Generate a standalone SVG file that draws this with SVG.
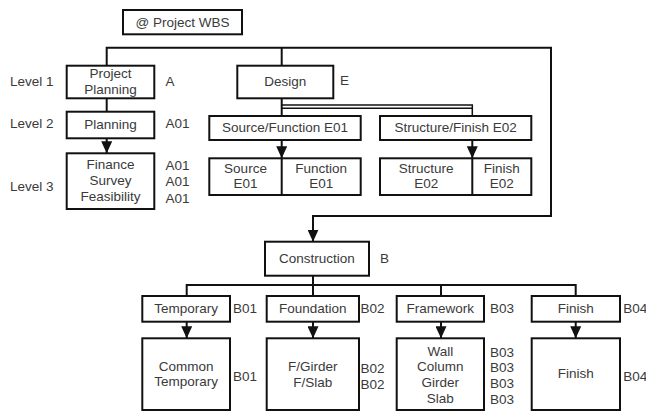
<svg xmlns="http://www.w3.org/2000/svg" width="646" height="413" viewBox="0 0 646 413">
  <defs>
    <marker id="arrow" markerUnits="userSpaceOnUse" markerWidth="12" markerHeight="11" refX="12" refY="5.5" orient="auto">
      <path d="M0,0 L12,5.5 L0,11 z" fill="#111"/>
    </marker>
    <style>
      .box { fill: #fff; stroke: #111; stroke-width: 2; }
      .ln { fill: none; stroke: #111; stroke-width: 2; }
      .t { font-family: "Liberation Sans", Arial, sans-serif; font-size: 13.5px; fill: #3a3a3a; dominant-baseline: central; }
      .c { text-anchor: middle; }
    </style>
  </defs>

  <rect width="646" height="413" fill="#fff"/>

  <!-- connectors -->
  <g id="connectors">
    <path class="ln" d="M106.7,65.7 V47.7 H551 V216 H313 V241.7" marker-end="url(#arrow)"/>
    <path class="ln" d="M281.7,47.7 V65.7"/>
    <path class="ln" d="M106.7,98.3 V111.7"/>
    <path class="ln" d="M106.7,138.3 V153.3" marker-end="url(#arrow)"/>
    <path class="ln" d="M281.7,98.3 V116"/>
    <path class="ln" d="M281.7,105 H472.3 V116" style="stroke-width:1.5"/>
    <path class="ln" d="M281.7,108.3 H472.3" style="stroke-width:1.5"/>
    <path class="ln" d="M281.7,140 V158.3" marker-end="url(#arrow)"/>
    <path class="ln" d="M472.3,140 V158.3" marker-end="url(#arrow)"/>
    <path class="ln" d="M313,275.7 V296"/>
    <path class="ln" d="M186.7,296 V285 H575.7 V296"/>
    <path class="ln" d="M441,285 V296"/>
    <path class="ln" d="M186.7,321.7 V338.3" marker-end="url(#arrow)"/>
    <path class="ln" d="M313,321.7 V338.3" marker-end="url(#arrow)"/>
    <path class="ln" d="M441,321.7 V338.3" marker-end="url(#arrow)"/>
    <path class="ln" d="M575.7,321.7 V338.3" marker-end="url(#arrow)"/>
  </g>

  <!-- level captions -->
  <g id="levels" class="t">
    <text x="10" y="81">Level 1</text>
    <text x="10" y="123">Level 2</text>
    <text x="10" y="186">Level 3</text>
  </g>

  <g id="root">
    <rect class="box" x="123" y="10" width="119" height="24.3"/>
    <text class="t c" x="182.5" y="22">@ Project WBS</text>
  </g>

  <g id="project-planning">
    <rect class="box" x="66.7" y="65.7" width="87.6" height="32.6"/>
    <text class="t c" x="110.5" y="73.5">Project</text>
    <text class="t c" x="110.5" y="89.5">Planning</text>
    <text class="t" x="165.5" y="81">A</text>
  </g>

  <g id="planning">
    <rect class="box" x="66.7" y="111.7" width="87.6" height="26.6"/>
    <text class="t c" x="110.5" y="124">Planning</text>
    <text class="t" x="165.5" y="123.5">A01</text>
  </g>

  <g id="finance">
    <rect class="box" x="66.7" y="153.3" width="87.6" height="55.7"/>
    <text class="t c" x="110.5" y="164.5">Finance</text>
    <text class="t c" x="110.5" y="180.5">Survey</text>
    <text class="t c" x="110.5" y="196.5">Feasibility</text>
    <text class="t" x="165.5" y="165">A01</text>
    <text class="t" x="165.5" y="181.5">A01</text>
    <text class="t" x="165.5" y="198">A01</text>
  </g>

  <g id="design">
    <rect class="box" x="237.3" y="65.7" width="96" height="32.6"/>
    <text class="t c" x="285.3" y="81.5">Design</text>
    <text class="t" x="340" y="80.5">E</text>
  </g>

  <g id="source-function">
    <rect class="box" x="209.3" y="116" width="151.4" height="24"/>
    <text class="t c" x="285" y="127.8">Source/Function E01</text>
  </g>

  <g id="source-function-items">
    <rect class="box" x="209.3" y="158.3" width="151.4" height="36.7"/>
    <line class="ln" x1="281.7" y1="158.3" x2="281.7" y2="195"/>
    <text class="t c" x="245.5" y="168.3">Source</text>
    <text class="t c" x="245.5" y="183.5">E01</text>
    <text class="t c" x="321.2" y="168.3">Function</text>
    <text class="t c" x="321.2" y="183.5">E01</text>
  </g>

  <g id="structure-finish">
    <rect class="box" x="380" y="116" width="151.3" height="24"/>
    <text class="t c" x="455.7" y="127.8">Structure/Finish E02</text>
  </g>

  <g id="structure-finish-items">
    <rect class="box" x="380" y="158.3" width="151.3" height="36.7"/>
    <line class="ln" x1="472.3" y1="158.3" x2="472.3" y2="195"/>
    <text class="t c" x="426.2" y="168.3">Structure</text>
    <text class="t c" x="426.2" y="183.5">E02</text>
    <text class="t c" x="501.8" y="168.3">Finish</text>
    <text class="t c" x="501.8" y="183.5">E02</text>
  </g>

  <g id="construction">
    <rect class="box" x="265" y="241.7" width="104" height="34"/>
    <text class="t c" x="317" y="258.5">Construction</text>
    <text class="t" x="380" y="258">B</text>
  </g>

  <g id="temporary">
    <rect class="box" x="142.3" y="296" width="87.7" height="25.7"/>
    <text class="t c" x="186.2" y="308.8">Temporary</text>
    <text class="t" x="233" y="308.5">B01</text>
  </g>

  <g id="common-temporary">
    <rect class="box" x="142.3" y="338.3" width="87.7" height="71.7"/>
    <text class="t c" x="186.2" y="366.7">Common</text>
    <text class="t c" x="186.2" y="381">Temporary</text>
    <text class="t" x="233" y="376">B01</text>
  </g>

  <g id="foundation">
    <rect class="box" x="266.7" y="296" width="92.3" height="25.7"/>
    <text class="t c" x="312.8" y="308.8">Foundation</text>
    <text class="t" x="360.5" y="308.5">B02</text>
  </g>

  <g id="foundation-items">
    <rect class="box" x="266.7" y="338.3" width="92.3" height="71.7"/>
    <text class="t c" x="312.8" y="366.7">F/Girder</text>
    <text class="t c" x="312.8" y="382">F/Slab</text>
    <text class="t" x="360.5" y="368">B02</text>
    <text class="t" x="360.5" y="384">B02</text>
  </g>

  <g id="framework">
    <rect class="box" x="396.7" y="296" width="87.3" height="25.7"/>
    <text class="t c" x="440.3" y="308.8">Framework</text>
    <text class="t" x="490" y="308.5">B03</text>
  </g>

  <g id="framework-items">
    <rect class="box" x="396.7" y="338.3" width="87.3" height="71.7"/>
    <text class="t c" x="440.3" y="351">Wall</text>
    <text class="t c" x="440.3" y="366.7">Column</text>
    <text class="t c" x="440.3" y="382.3">Girder</text>
    <text class="t c" x="440.3" y="398.3">Slab</text>
    <text class="t" x="490" y="352.3">B03</text>
    <text class="t" x="490" y="367.5">B03</text>
    <text class="t" x="490" y="383.3">B03</text>
    <text class="t" x="490" y="399">B03</text>
  </g>

  <g id="finish">
    <rect class="box" x="531.7" y="296" width="88.3" height="25.7"/>
    <text class="t c" x="575.8" y="308.8">Finish</text>
    <text class="t" x="623.3" y="308.5">B04</text>
  </g>

  <g id="finish-items">
    <rect class="box" x="531.7" y="338.3" width="88.3" height="71.7"/>
    <text class="t c" x="575.8" y="373.5">Finish</text>
    <text class="t" x="623.3" y="376">B04</text>
  </g>
</svg>
